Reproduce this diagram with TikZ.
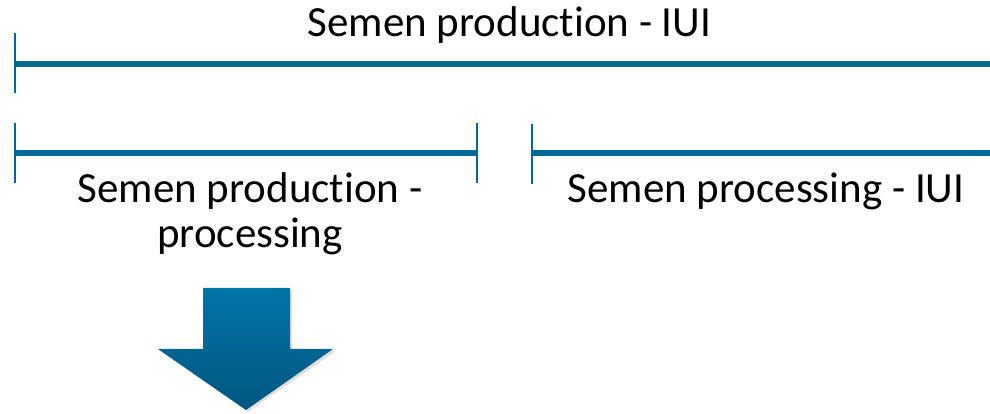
\documentclass[tikz,border=0pt]{standalone}
\usepackage{fontspec}
\setmainfont{Carlito}[Ligatures=NoCommon]
\definecolor{barblue}{RGB}{0,106,150}
\definecolor{arrtop}{RGB}{0,116,167}
\definecolor{arrbot}{RGB}{0,86,128}
\begin{document}
\begin{tikzpicture}[x=1pt,y=1pt,
  bar/.style={draw=barblue,line width=6pt},
  tick/.style={draw=barblue,line width=2.6pt},
  lab/.style={font=\fontsize{43}{51}\selectfont,anchor=base,inner sep=0pt,text=black}]
\useasboundingbox (0,0) rectangle (990,414);
% top span
\coordinate (t1) at (15,350);
\coordinate (t2) at (990,350);
\draw[tick] (15,381) -- (15,321);
\draw[bar] (t1) -- (t2);
\node[lab] (top) at (509.5,377) {Semen production - IUI};
% left span
\coordinate (l1) at (15,261);
\coordinate (l2) at (477,261);
\draw[tick] (15,291) -- (15,231);
\draw[tick] (477,291) -- (477,231);
\draw[bar] (l1) -- (l2);
\node[lab] (left1) at (250,211) {Semen production -};
\node[lab] (left2) at (250,166) {processing};
% right span
\coordinate (r1) at (532,261);
\coordinate (r2) at (990,261);
\draw[tick] (532,290) -- (532,230);
\draw[bar] (r1) -- (r2);
\node[lab] (right) at (766,211) {Semen processing - IUI};
% arrow
\fill[black,opacity=0.12] (205,124) -- (292,124) -- (292,63) -- (336,63) -- (248,2) -- (160,63) -- (205,63) -- cycle;
\shade[top color=arrtop,bottom color=arrbot] (203,126) -- (290,126) -- (290,65) -- (333,65) -- (246,4) -- (158,65) -- (203,65) -- cycle;
\end{tikzpicture}
\end{document}
